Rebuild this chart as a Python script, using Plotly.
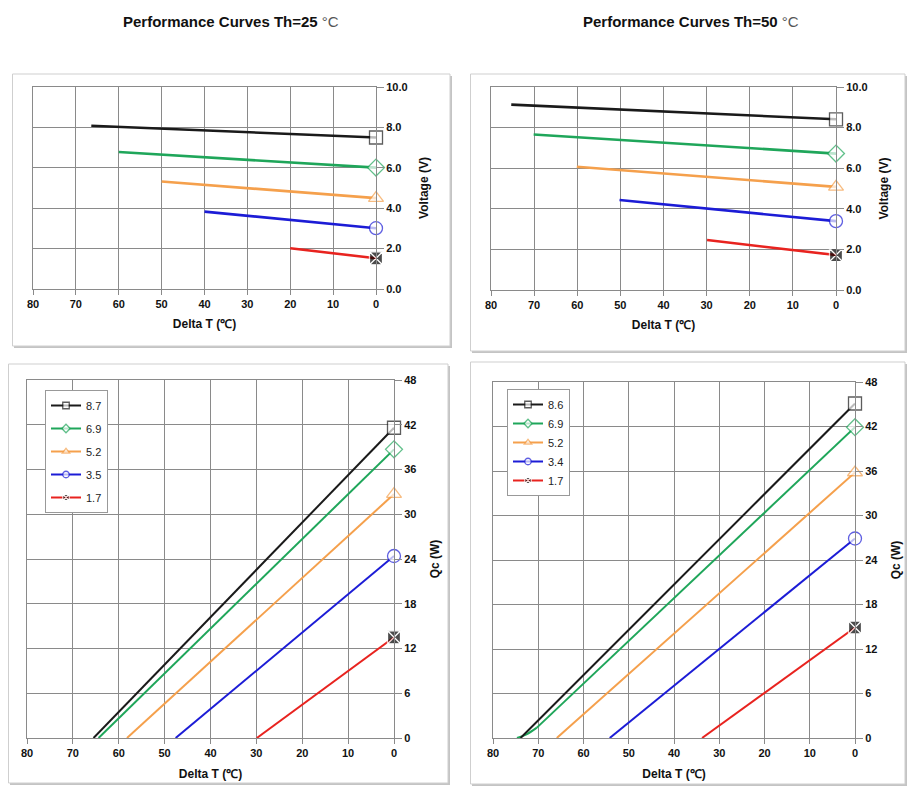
import plotly.graph_objects as go

# ---------------- data ----------------
series_labels_25 = ["8.7", "6.9", "5.2", "3.5", "1.7"]
series_labels_50 = ["8.6", "6.9", "5.2", "3.4", "1.7"]
colors = ["#1a1a1a", "#1fa65a", "#f5a04c", "#1c1cd6", "#e8231f"]
symbols = ["square", "diamond", "triangle-up", "circle", "square-x"]

# Voltage vs Delta T, Th=25
v25_dT_start = [66.4, 60, 50, 40, 20]
v25_start = [8.08, 6.78, 5.32, 3.83, 2.02]
v25_end = [7.5, 6.01, 4.5, 3.01, 1.52]

# Voltage vs Delta T, Th=50
v50_dT_start = [75.3, 70.1, 60.1, 50.2, 29.9]
v50_start = [9.13, 7.66, 6.07, 4.43, 2.46]
v50_end = [8.41, 6.72, 5.08, 3.39, 1.72]

# Qc vs Delta T, Th=25
q25_dT_max = [65.5, 64.4, 58.2, 47.6, 29.9]
q25_max = [41.6, 38.7, 32.7, 24.4, 13.5]

# Qc vs Delta T, Th=50
q50_dT_max = [73.9, 70.3, 65.9, 54.2, 33.8]
q50_start = [0, 1.4, 0, 0, 0]
q50_max = [45.1, 41.9, 35.8, 26.9, 14.9]
q50_green_tail_dT = [74.7, 72.6, 70.3]
q50_green_tail_q = [0, 0.5, 1.4]

# page body has an 8px margin: figure is 900x779 placed at (8, 8)
OFF = 8
W, H = 916 - 2 * OFF, 795 - 2 * OFF
def px(x): return (x - OFF) / W
def py(y): return 1 - (y - OFF) / H

fig = go.Figure()

def add_series(xa, ya, dTs, y0s, y1s, width, msize, legend=None, labels=None, grp=""):
    for i in range(5):
        fill = "black" if symbols[i] == "square-x" else "white"
        lcol = "white" if symbols[i] == "square-x" else colors[i]
        fig.add_trace(go.Scatter(
            x=[dTs[i], 0], y=[y0s[i], y1s[i]],
            mode="lines+markers",
            line=dict(color=colors[i], width=width),
            marker=dict(symbol=symbols[i], size=[0, msize], color=fill,
                        line=dict(color=lcol, width=1.3)),
            cliponaxis=False,
            xaxis=xa, yaxis=ya,
            showlegend=legend is not None,
            legend=legend if legend else "legend",
            legendgroup=f"{grp}{i}",
            name=labels[i] if labels else "",
            hoverinfo="skip"))

add_series("x", "y", v25_dT_start, v25_start, v25_end, 2.6, 13)
add_series("x2", "y2", v50_dT_start, v50_start, v50_end, 2.6, 13)
add_series("x3", "y3", q25_dT_max, [0]*5, q25_max, 2, 13, "legend", series_labels_25, "a")
# green tail for Th=50 Qc
fig.add_trace(go.Scatter(x=q50_green_tail_dT, y=q50_green_tail_q, mode="lines",
                         line=dict(color=colors[1], width=2, shape="spline"),
                         xaxis="x4", yaxis="y4", showlegend=False, hoverinfo="skip"))
add_series("x4", "y4", q50_dT_max, q50_start, q50_max, 2, 13, "legend2", series_labels_50, "b")

# ---------------- axes ----------------
grid = "#8a8a8a"
tickfont = dict(family="Liberation Sans, Arial", size=11, color="#111", weight="bold")
titlefont = dict(family="Liberation Sans, Arial", size=12, color="#111", weight="bold")

def xaxis(dom, anchor, stand):
    return dict(domain=dom, anchor=anchor, range=[80, 0], dtick=10, tick0=0,
                showgrid=True, gridcolor=grid, gridwidth=1,
                showline=True, linecolor=grid, linewidth=1, mirror=True,
                ticks="outside", ticklen=5, tickcolor=grid,
                tickfont=tickfont, zeroline=False, automargin=False,
                title=dict(text="Delta T (\u2103)", font=titlefont, standoff=stand))

def yaxis(dom, anchor, rng, dtick, fmt, title, stand):
    return dict(domain=dom, anchor=anchor, side="right", range=rng, dtick=dtick,
                tickformat=fmt, showgrid=True, gridcolor=grid, gridwidth=1,
                showline=True, linecolor=grid, linewidth=1, mirror=True,
                ticks="outside", ticklen=7, tickcolor=grid,
                tickfont=tickfont, zeroline=False, automargin=False,
                title=dict(text=title, font=titlefont, standoff=stand))

legfont = dict(family="Liberation Sans, Arial", size=11, color="#222")
layout = dict(
    width=W, height=H, margin=dict(l=0, r=0, t=0, b=0, autoexpand=False),
    paper_bgcolor="white", plot_bgcolor="white",
    xaxis=xaxis([px(33), px(376)], "y", 10),
    yaxis=yaxis([py(289), py(87)], "x", [0, 10], 2, ".1f", "Voltage (V)", 12),
    xaxis2=xaxis([px(491), px(836)], "y2", 10),
    yaxis2=yaxis([py(290), py(87)], "x2", [0, 10], 2, ".1f", "Voltage (V)", 12),
    xaxis3=xaxis([px(27), px(394)], "y3", 11),
    yaxis3=yaxis([py(738), py(380)], "x3", [0, 48], 6, "d", "Qc (W)", 14),
    xaxis4=xaxis([px(493), px(855)], "y4", 11),
    yaxis4=yaxis([py(738), py(382)], "x4", [0, 48], 6, "d", "Qc (W)", 14),
    legend=dict(x=px(45), y=py(390), xanchor="left", yanchor="top",
                bgcolor="white", bordercolor="#999", borderwidth=1,
                font=legfont, itemwidth=30, tracegroupgap=4),
    legend2=dict(x=px(507), y=py(389), xanchor="left", yanchor="top",
                 bgcolor="white", bordercolor="#999", borderwidth=1,
                 font=legfont, itemwidth=30, tracegroupgap=0),
    showlegend=True,
)
fig.update_layout(**layout)

# panel frames with subtle shadow
frames = [(12, 74, 450, 346), (470, 74, 905, 351), (8, 364, 448, 783), (470, 362, 905, 784)]
for (x0, y0, x1, y1) in frames:
    fig.add_shape(type="rect", xref="paper", yref="paper",
                  x0=px(x0 + 2), y0=py(y1 + 2), x1=px(x1 + 2), y1=py(y0 + 2),
                  line=dict(width=0), fillcolor="#c4c4c4", layer="below")
    fig.add_shape(type="rect", xref="paper", yref="paper",
                  x0=px(x0 + 0.5), y0=py(y1), x1=px(x1), y1=py(y0),
                  line=dict(color="#cfcfcf", width=1), fillcolor="white", layer="below")

# titles
for cx, t in [(231, "25"), (691, "50")]:
    fig.add_annotation(xref="paper", yref="paper", x=px(cx), y=py(21),
                       xanchor="center", yanchor="middle", showarrow=False,
                       text=f"<b>Performance Curves Th={t}</b> <span style='color:#555'>\u00b0C</span>",
                       font=dict(family="Liberation Sans, Arial", size=15, color="#111"))

fig.write_html("out.html")
